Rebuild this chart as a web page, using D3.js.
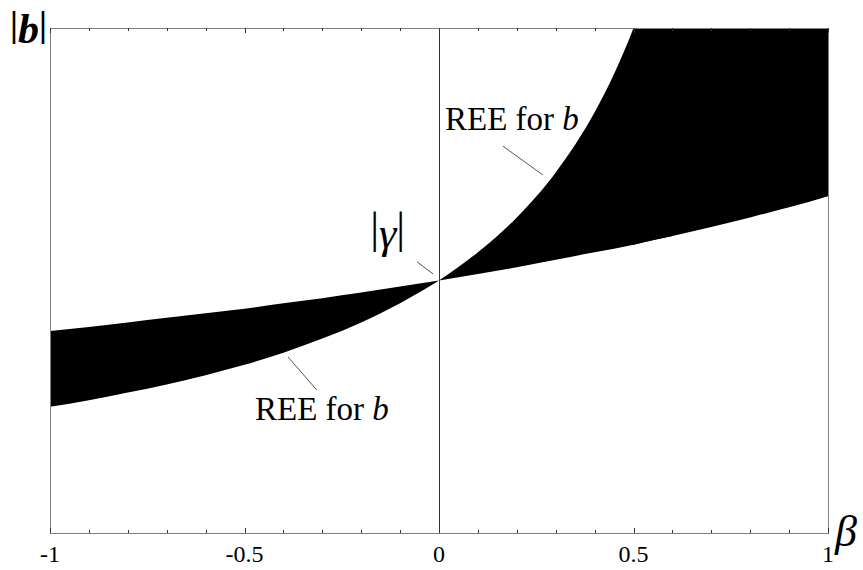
<!DOCTYPE html>
<html><head><meta charset="utf-8">
<script src="https://cdn.jsdelivr.net/npm/d3@7"></script>
<style>
html,body{margin:0;padding:0;background:#fff;}svg{display:block;}
svg text{font-family:"Liberation Serif","Times New Roman",serif;}
</style>
</head><body>
<svg id="chart" width="863" height="570"></svg>
<script>
// β grid and curve values (|γ| = 0.5, y in plot units 0..1)
const betaLeft   = [-1, -0.9, -0.8, -0.7, -0.6, -0.5, -0.4, -0.3, -0.2, -0.1, 0];
const reeLeft    = [0.250, 0.263, 0.278, 0.294, 0.3125, 0.333, 0.357, 0.385, 0.417, 0.455, 0.5];
const flatLeft   = [0.400, 0.408, 0.417, 0.426, 0.435, 0.444, 0.455, 0.465, 0.476, 0.488, 0.5];
const betaRight  = [0, 0.1, 0.2, 0.3, 0.4, 0.45, 0.5, 0.55, 0.6];
const reeRight   = [0.5, 0.556, 0.625, 0.714, 0.833, 0.909, 1.0, 1.111, 1.25];
const flatRight  = [0.5, 0.513, 0.526, 0.541, 0.556, 0.563, 0.571, 0.580, 0.588];
const betaFar    = [0.5, 0.6, 0.7, 0.8, 0.9, 1.0];
const flatFar    = [0.571, 0.588, 0.606, 0.625, 0.645, 0.667];
const tickMajor  = [-1, -0.5, 0, 0.5, 1];
const tickLabels = ["-1", "-0.5", "0", "0.5", "1"];
const tickMinor  = [-0.9,-0.8,-0.7,-0.6,-0.4,-0.3,-0.2,-0.1,0.1,0.2,0.3,0.4,0.6,0.7,0.8,0.9];
const yMax = 1;

const svg = d3.select("#chart");
const x = d3.scaleLinear().domain([-1, 1]).range([50, 828]);
const y = d3.scaleLinear().domain([0, 1]).range([533, 28]);

svg.append("defs").append("clipPath").attr("id","plot")
  .append("rect").attr("x", x(-1)).attr("y", y(1)).attr("width", x(1)-x(-1)).attr("height", y(0)-y(1));

const g = svg.append("g").attr("clip-path","url(#plot)");
const area = d3.area().curve(d3.curveMonotoneX);

g.append("path").attr("fill","#000")
  .attr("d", area.x(d=>x(d.b)).y0(d=>y(d.lo)).y1(d=>y(d.hi))(
    betaLeft.map((b,i)=>({b, lo: reeLeft[i], hi: flatLeft[i]}))));
g.append("path").attr("fill","#000")
  .attr("d", area.x(d=>x(d.b)).y0(d=>y(d.lo)).y1(d=>y(d.hi))(
    betaRight.map((b,i)=>({b, lo: flatRight[i], hi: reeRight[i]}))));
g.append("path").attr("fill","#000")
  .attr("d", area.x(d=>x(d.b)).y0(d=>y(d.lo)).y1(d=>y(d.hi))(
    betaFar.map((b,i)=>({b, lo: flatFar[i], hi: yMax + 0.05}))));

svg.append("line").attr("x1", x(0)+0.5).attr("x2", x(0)+0.5).attr("y1", y(1)).attr("y2", y(0))
  .attr("stroke","#333").attr("stroke-width",1);

svg.append("rect").attr("x", x(-1)+0.5).attr("y", y(1)+0.5)
  .attr("width", x(1)-x(-1)).attr("height", y(0)-y(1))
  .attr("fill","none").attr("stroke","#808080").attr("stroke-width",1);

const tg = svg.append("g").attr("stroke","#333").attr("stroke-width",1);
tickMinor.forEach(t=>{
  const xx = Math.round(x(t))+0.5;
  tg.append("line").attr("x1",xx).attr("x2",xx).attr("y1",y(0)).attr("y2",y(0)-3);
  tg.append("line").attr("x1",xx).attr("x2",xx).attr("y1",y(1)).attr("y2",y(1)+3);
});
tickMajor.forEach(t=>{
  const xx = Math.round(x(t))+0.5;
  tg.append("line").attr("x1",xx).attr("x2",xx).attr("y1",y(0)).attr("y2",y(0)-5);
  tg.append("line").attr("x1",xx).attr("x2",xx).attr("y1",y(1)).attr("y2",y(1)+5);
});
svg.append("g").selectAll("text").data(tickMajor).join("text")
  .attr("x", d=>x(d)).attr("y", 562).attr("text-anchor","middle")
  .attr("font-size", 24).attr("fill","#000")
  .text((d,i)=>tickLabels[i]);

const yl = svg.append("text").attr("x", 10).attr("y", 43)
  .attr("font-size", 42).attr("font-weight","bold").attr("fill","#000");
yl.append("tspan").attr("font-size",36).attr("dy",-7).text("|");
yl.append("tspan").attr("font-style","italic").attr("dy",7).text("b");
yl.append("tspan").attr("font-size",36).attr("dy",-7).text("|");

svg.append("text").attr("x", 835).attr("y", 546)
  .attr("font-size", 44).attr("font-style","italic").attr("fill","#000").text("β");

const ann = [
  {tx: 0.0154, ty: 0.798, p: [[0.1645,0.766],[0.267,0.709]]},
  {tx: -0.473, ty: 0.224, p: [[-0.388,0.3485],[-0.314,0.283]]}
];
ann.forEach(a=>{
  const t = svg.append("text").attr("x", x(a.tx)).attr("y", y(a.ty))
    .attr("font-size", 33).attr("fill","#000");
  t.append("tspan").text("REE for ");
  t.append("tspan").attr("font-style","italic").text("b");
  svg.append("line").attr("x1", x(a.p[0][0])).attr("y1", y(a.p[0][1]))
    .attr("x2", x(a.p[1][0])).attr("y2", y(a.p[1][1])).attr("stroke","#555").attr("stroke-width",1);
});
const gt = svg.append("text").attr("x", x(-0.177)).attr("y", y(0.564))
  .attr("font-size", 44).attr("fill","#000");
gt.append("tspan").attr("dy",-5).text("|");
gt.append("tspan").attr("font-style","italic").attr("dy",5).text("γ");
gt.append("tspan").attr("dy",-5).text("|");
svg.append("line").attr("x1", x(-0.0566)).attr("y1", y(0.537))
  .attr("x2", x(-0.0154)).attr("y2", y(0.513)).attr("stroke","#555").attr("stroke-width",1);
</script>
</body></html>
